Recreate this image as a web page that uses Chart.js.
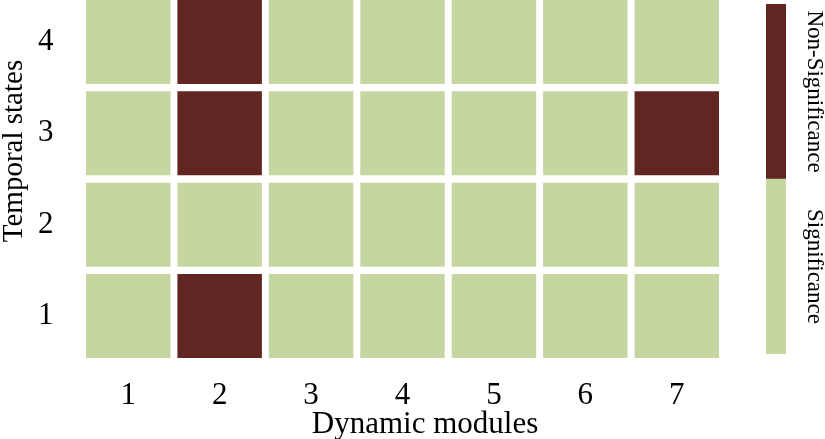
<!DOCTYPE html>
<html>
<head>
<meta charset="utf-8">
<script src="https://cdn.jsdelivr.net/npm/chart.js@4.4.1/dist/chart.umd.min.js"></script>
<style>
html, body { margin: 0; padding: 0; background: #fff; }
#wrap { position: relative; width: 825px; height: 439px; }
canvas { position: absolute; left: 0; top: 0; }
</style>
</head>
<body>
<div id="wrap">
<canvas id="chart" width="825" height="439"></canvas>
<canvas id="bar" width="825" height="439"></canvas>
</div>
<script>
const modules = ["1", "2", "3", "4", "5", "6", "7"];
const states = [1, 2, 3, 4];
// 1 = non-significance, 0 = significance (one array per temporal state)
const state1 = [0, 1, 0, 0, 0, 0, 0];
const state2 = [0, 0, 0, 0, 0, 0, 0];
const state3 = [0, 1, 0, 0, 0, 0, 1];
const state4 = [0, 1, 0, 0, 0, 0, 0];
const legendLabels = ["Significance", "Non-Significance"];

const green = "#c6d6a1";
const red = "#612522";
const serif = '"Liberation Serif", "Times New Roman", serif';

const rows = [state1, state2, state3, state4];

const datasets = states.map((s, i) => ({
    label: "State " + s,
    data: rows[i].map(() => [s - 0.46, s + 0.46]),
    backgroundColor: rows[i].map(v => v ? red : green),
    borderWidth: 0,
    grouped: false,
    barPercentage: 0.924,
    categoryPercentage: 1
}));

const titles = {
    id: "titles",
    afterDraw(chart) {
        const ctx = chart.ctx;
        ctx.save();
        ctx.fillStyle = "#000";
        ctx.textAlign = "center";
        ctx.textBaseline = "alphabetic";
        ctx.font = "31px " + serif;
        ctx.fillText("Dynamic modules", 425, 433);
        ctx.font = "29px " + serif;
        ctx.translate(22, 151);
        ctx.rotate(-Math.PI / 2);
        ctx.fillText("Temporal states", 0, 0);
        ctx.restore();
    }
};

new Chart(document.getElementById("chart"), {
    type: "bar",
    data: { labels: modules, datasets: datasets },
    options: {
        responsive: false,
        animation: false,
        layout: { padding: { left: 0, top: 0, right: 102.5, bottom: 0 } },
        scales: {
            x: {
                type: "category",
                offset: true,
                grid: { display: false },
                border: { display: false },
                ticks: { color: "#000", font: { family: serif, size: 31 }, padding: 8 },
                afterFit(s) { s.height = 77.4; s.paddingLeft = 0; s.paddingRight = 0; }
            },
            y: {
                type: "linear",
                min: 0.5,
                max: 4.46,
                grid: { display: false },
                border: { display: false },
                afterBuildTicks(s) { s.ticks = states.map(v => ({ value: v })); },
                ticks: { color: "#000", font: { family: serif, size: 31 }, padding: 21 },
                afterFit(s) { s.width = 82.5; s.paddingTop = 0; s.paddingBottom = 0; }
            }
        },
        plugins: { legend: { display: false }, tooltip: { enabled: false } }
    },
    plugins: [titles]
});

const barLabels = {
    id: "barLabels",
    afterDraw(chart) {
        const ctx = chart.ctx;
        const y = chart.scales.y;
        ctx.save();
        ctx.fillStyle = "#000";
        ctx.textAlign = "center";
        ctx.textBaseline = "alphabetic";
        ctx.font = "23px " + serif;
        legendLabels.forEach((t, i) => {
            ctx.save();
            ctx.translate(808, y.getPixelForValue(i + 0.5));
            ctx.rotate(Math.PI / 2);
            ctx.fillText(t, 0, 0);
            ctx.restore();
        });
        ctx.restore();
    }
};

new Chart(document.getElementById("bar"), {
    type: "bar",
    data: {
        labels: [""],
        datasets: [
            { label: legendLabels[0], data: [[0, 1]], backgroundColor: green, borderWidth: 0, grouped: false, barPercentage: 1, categoryPercentage: 1 },
            { label: legendLabels[1], data: [[1, 2]], backgroundColor: red, borderWidth: 0, grouped: false, barPercentage: 1, categoryPercentage: 1 }
        ]
    },
    options: {
        responsive: false,
        animation: false,
        layout: { padding: { left: 766, right: 39, top: 4, bottom: 85 } },
        scales: {
            x: { display: false },
            y: { display: false, min: 0, max: 2 }
        },
        plugins: { legend: { display: false }, tooltip: { enabled: false } }
    },
    plugins: [barLabels]
});
</script>
</body>
</html>
